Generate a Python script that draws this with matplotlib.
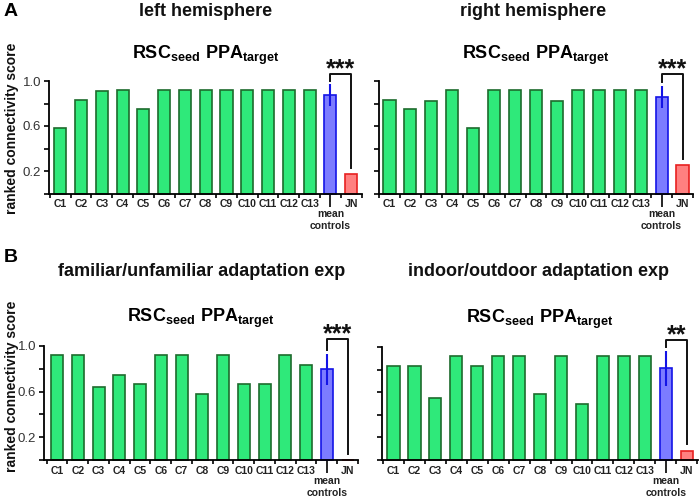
import matplotlib
matplotlib.use("Agg")
import matplotlib.pyplot as plt
import numpy as np

plt.rcParams['font.family'] = ['Liberation Sans', 'DejaVu Sans']
plt.rcParams['mathtext.fontset'] = 'custom'
plt.rcParams['mathtext.rm'] = 'Liberation Sans'
plt.rcParams['mathtext.bf'] = 'Liberation Sans:bold'

categories = ['C1', 'C2', 'C3', 'C4', 'C5', 'C6', 'C7', 'C8', 'C9', 'C10',
              'C11', 'C12', 'C13', 'mean\ncontrols', 'JN']
y_ticks = [0.0, 0.2, 0.4, 0.6, 0.8, 1.0]
y_tick_labels = ['', '0.2', '', '0.6', '', '1.0']

panel_titles = ['left hemisphere', 'right hemisphere',
                'familiar/unfamiliar adaptation exp', 'indoor/outdoor adaptation exp']
sub_title = r'$\mathbf{RSC_{seed}\,\,PPA_{target}}$'

left_ctrl = [0.583, 0.833, 0.91, 0.917, 0.75, 0.917, 0.917, 0.917, 0.917, 0.917, 0.917, 0.917, 0.917]
left_mean, left_err, left_jn = 0.872, 0.097, 0.17

right_ctrl = [0.833, 0.75, 0.82, 0.917, 0.583, 0.917, 0.917, 0.917, 0.82, 0.917, 0.917, 0.917, 0.917]
right_mean, right_err, right_jn = 0.858, 0.098, 0.25

fam_ctrl = [0.917, 0.917, 0.64, 0.75, 0.667, 0.917, 0.917, 0.583, 0.917, 0.667, 0.667, 0.917, 0.833]
fam_mean, fam_err, fam_jn = 0.795, 0.135, 0.0

indoor_ctrl = [0.833, 0.833, 0.55, 0.917, 0.833, 0.917, 0.917, 0.583, 0.917, 0.5, 0.917, 0.917, 0.917]
indoor_mean, indoor_err, indoor_jn = 0.81, 0.155, 0.083

stars = ['***', '***', '***', '**']

panels = [
    (left_ctrl, left_mean, left_err, left_jn),
    (right_ctrl, right_mean, right_err, right_jn),
    (fam_ctrl, fam_mean, fam_err, fam_jn),
    (indoor_ctrl, indoor_mean, indoor_err, indoor_jn),
]

W, H = 700, 499
# pixel boxes: left, right, top(1.0), bottom(0), xlim, title offset (pt)
boxes = [
    (49, 362, 81, 193.5, (-0.54, 14.52), 16),
    (379, 693, 81, 193.5, (-0.49, 14.5), 16),
    (44, 358, 346, 460, (-0.63, 14.45), 17),
    (382, 698, 347, 460, (-0.55, 14.54), 17.5),
]

GREEN_F, GREEN_E = '#2fe97a', '#1d6b2c'
BLUE_F, BLUE_E = '#7c7cff', '#1414e6'
RED_F, RED_E = '#ff8080', '#e82020'

fig = plt.figure(figsize=(7.0, 4.99), dpi=100)

for i, ((ctrl, mean, err, jn), (L, R, T, B, xl, toff)) in enumerate(zip(panels, boxes)):
    ax = fig.add_axes([L / W, (H - B) / H, (R - L) / W, (B - T) / H])
    x = np.arange(len(categories))
    vals = list(ctrl) + [mean, jn]
    fcs = [GREEN_F] * 13 + [BLUE_F, RED_F]
    ecs = [GREEN_E] * 13 + [BLUE_E, RED_E]
    ax.bar(x, vals, width=0.58, color=fcs, edgecolor=ecs, linewidth=1.2, zorder=2,
           clip_on=False)
    ax.errorbar([13], [mean], yerr=[err], fmt='none', ecolor=BLUE_E, elinewidth=1.5,
                capsize=0, zorder=3)
    ax.set_xlim(*xl)
    ax.set_ylim(0, 1.0)
    for s in ['top', 'right']:
        ax.spines[s].set_visible(False)
    for s in ['left', 'bottom']:
        ax.spines[s].set_linewidth(1.3)
    ax.set_yticks(y_ticks)
    ax.set_yticklabels(y_tick_labels if i in (0, 2) else [''] * len(y_ticks),
                       fontsize=9.5, color='#333333')
    ax.tick_params(axis='y', direction='out', length=3.5, width=1.2, pad=2)
    labels = list(categories)
    labels[13] = ''
    ax.set_xticks(x)
    ax.set_xticklabels(labels, fontsize=7.5, fontweight='bold', color='#222222')
    ax.set_xticks(np.arange(-0.5, 15, 1.0), minor=True)
    ax.tick_params(axis='x', which='major', length=0, pad=4)
    ax.tick_params(axis='x', which='minor', direction='out', length=3, width=1.2)
    mt = ax.xaxis.get_major_ticks()[13]
    mt.tick1line.set_markersize(9.5)
    mt.tick1line.set_markeredgewidth(1.2)
    ax.annotate(categories[13], xy=(13, 0), xytext=(0, -11.5), textcoords='offset points',
                ha='center', va='top', fontsize=7.5, fontweight='bold', color='#222222',
                linespacing=1.2, annotation_clip=False)

    # significance bracket
    top = 1.06
    lb = mean + err + 0.035
    rb = jn + 0.055
    ax.plot([13, 13, 14, 14], [lb, top, top, rb], color='#111111', lw=1.4,
            clip_on=False, zorder=4)
    ax.annotate(stars[i], xy=(13.5, top), xytext=(0, -1.5), textcoords='offset points',
                ha='center', va='baseline', fontsize=18, fontweight='bold',
                color='#111111', annotation_clip=False)

    ax.annotate(sub_title, xy=(0.5, 1.0), xycoords='axes fraction',
                xytext=(0, toff), textcoords='offset points', ha='center',
                va='baseline', fontsize=13, annotation_clip=False)

# panel titles
title_pos = [(206, 11), (533, 11), (202, 272), (538, 272)]
for t, (px, py) in zip(panel_titles, title_pos):
    fig.text(px / W, 1 - py / H, t, ha='center', va='center', fontsize=13,
             fontweight='bold', color='#111111')

fig.text(4 / W, 1 - 11 / H, 'A', ha='left', va='center', fontsize=14, fontweight='bold')
fig.text(4 / W, 1 - 258 / H, 'B', ha='left', va='center', fontsize=14, fontweight='bold')

for py in (128, 386):
    fig.text(12 / W, 1 - py / H, 'ranked connectivity score', rotation=90, ha='center',
             va='center', fontsize=10, fontweight='bold', color='#111111')

fig.savefig('out.png', dpi=100)
